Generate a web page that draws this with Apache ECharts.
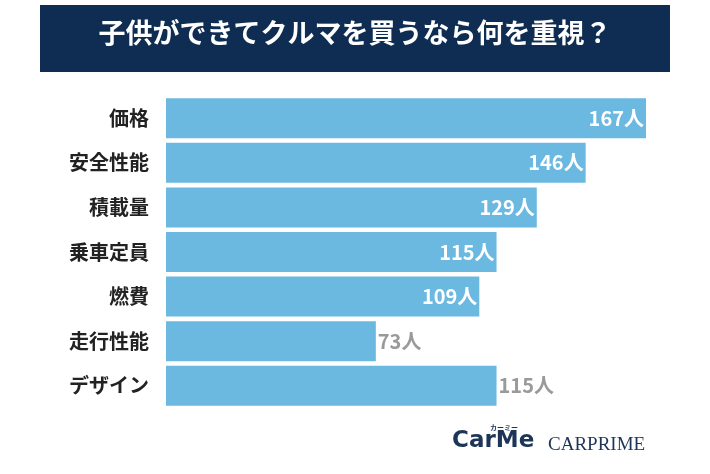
<!DOCTYPE html><html><head><meta charset="utf-8">
<script src="https://cdn.jsdelivr.net/npm/echarts@6/dist/echarts.min.js"></script>
<style>html,body{margin:0;padding:0;background:#fff}#c{width:710px;height:474px}</style></head><body><div id="c"></div>
<script>
const categories=["価格","安全性能","積載量","乗車定員","燃費","走行性能","デザイン"];
const values=[167,146,129,115,109,73,115];
const outside=[false,false,false,false,false,true,true];
const chart=echarts.init(document.getElementById('c'));
const F='"Noto Sans CJK JP"';
chart.setOption({
 animation:false,
 graphic:[
  {type:'rect',shape:{x:40,y:5,width:630,height:67},style:{fill:'#0f2d52'}},
  {type:'text',left:'center',top:19,style:{text:'子供ができてクルマを買うなら何を重視？',fill:'#fff',font:'bold 27px '+F}},
  {type:'text',left:452,top:430,style:{text:'CarMe',fill:'#1d3557',font:'bold 23px "DejaVu Sans"'}},
  {type:'text',left:490,top:424,style:{text:'カーミー',fill:'#1d3557',font:'bold 7px '+F}},
  {type:'text',left:548,top:436,style:{text:'CARPRIME',fill:'#1d3557',font:'19px "Liberation Serif"'}}
 ],
 grid:{left:166,top:96,width:480,height:312},
 xAxis:{type:'value',min:0,max:167,show:false},
 yAxis:{type:'category',data:categories,inverse:true,axisLine:{show:false},axisTick:{show:false},
   axisLabel:{color:'#222',fontSize:20,fontWeight:'bold',fontFamily:F,margin:17}},
 series:[{type:'bar',barWidth:40,itemStyle:{color:'#6bb8e1'},
  data:values.map((v,i)=>({value:v,label:outside[i]?{position:'right',color:'#9a9a9a',distance:2}:{position:'insideRight',color:'#fff',distance:2}})),
  label:{show:true,formatter:'{c}人',fontSize:20,fontWeight:'bold',fontFamily:F}}]
});
</script></body></html>
